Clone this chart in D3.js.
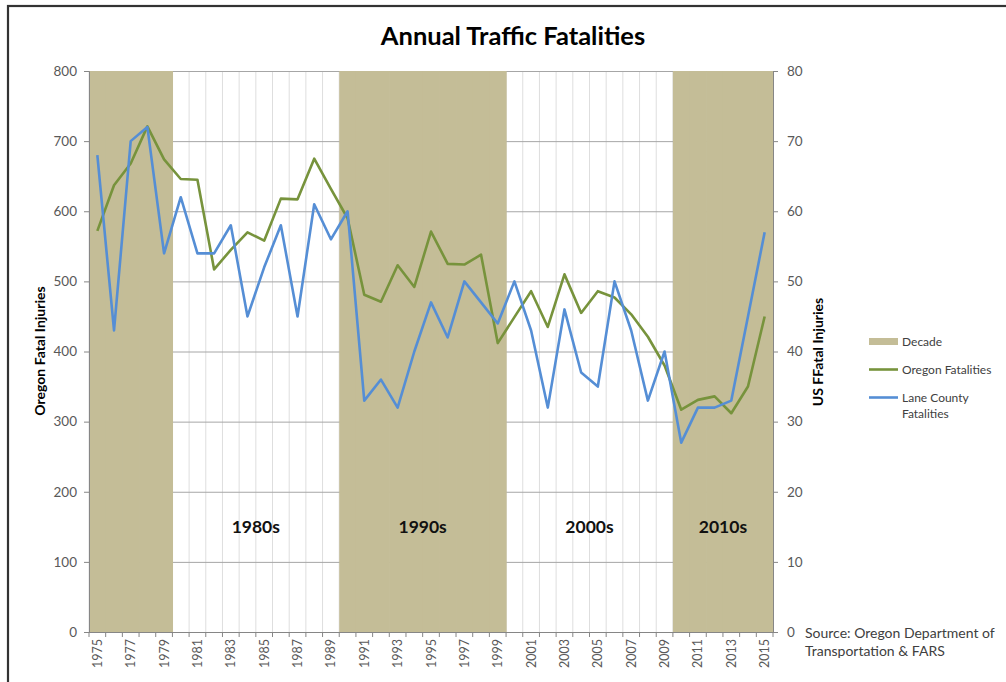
<!DOCTYPE html>
<html><head><meta charset="utf-8">
<script src="https://cdn.jsdelivr.net/npm/d3@7"></script>
<style>
html,body{margin:0;padding:0;background:#fff;}
svg{display:block;font-family:Lato,"Open Sans",sans-serif;}
</style></head>
<body>
<script>
const years = d3.range(1975, 2016);
const oregonFatalities = [572,637,668,721,674,646,645,517,545,570,558,618,617,675,632,590,481,471,523,492,571,525,524,538,412,449,486,435,510,455,486,477,453,421,380,317,331,336,312,350,450];
const laneCountyFatalities = [68,43,70,72,54,62,54,54,58,45,52,58,45,61,56,60,33,36,32,40,47,42,50,47,44,50,43,32,46,37,35,50,43,33,40,27,32,32,33,45,57];
const decadeYears = [1975,1976,1977,1978,1979,1990,1991,1992,1993,1994,1995,1996,1997,1998,1999,2010,2011,2012,2013,2014,2015];
const decadeLabels = [{label:"1980s",from:1980,to:1989},{label:"1990s",from:1990,to:1999},{label:"2000s",from:2000,to:2009},{label:"2010s",from:2010,to:2015}];
const leftTicks = [0,100,200,300,400,500,600,700,800];
const rightTicks = [0,10,20,30,40,50,60,70,80];

const W=1006,H=682;
const svg=d3.select("body").append("svg").attr("width",W).attr("height",H);

// chart border
svg.append("rect").attr("x",8).attr("y",6).attr("width",W+20).attr("height",H+20)
  .attr("fill","#fff").attr("stroke","#333").attr("stroke-width",2.2);

const L=89,R=773,T=71,B=632;
const x=d3.scaleBand().domain(years).range([L,R]).padding(0);
const y=d3.scaleLinear().domain([0,800]).range([B,T]);
const yR=d3.scaleLinear().domain([0,80]).range([B,T]);

// vertical grid
svg.append("g").selectAll("line").data(d3.range(years.length+1)).join("line")
  .attr("x1",i=>L+i*x.step()).attr("x2",i=>L+i*x.step())
  .attr("y1",T).attr("y2",B).attr("stroke","#dedede").attr("stroke-width",1);
// horizontal grid
svg.append("g").selectAll("line").data(leftTicks).join("line")
  .attr("x1",L).attr("x2",R).attr("y1",d=>y(d)+0.5).attr("y2",d=>y(d)+0.5)
  .attr("stroke","#a6a6a6").attr("stroke-width",1);

// decade bands
svg.append("g").selectAll("rect").data(decadeYears).join("rect")
  .attr("x",d=>x(d)).attr("width",x.bandwidth()+0.6)
  .attr("y",y(800)).attr("height",y(0)-y(800)).attr("fill","#c4bd97");

// axes
const axisColor="#868686";
const gl=svg.append("g").attr("transform",`translate(${L},0)`)
  .call(d3.axisLeft(y).tickValues(leftTicks).tickSize(5).tickPadding(7).tickFormat(d3.format("d")));
const gr=svg.append("g").attr("transform",`translate(${R},0)`)
  .call(d3.axisRight(yR).tickValues(rightTicks).tickSize(5).tickPadding(9).tickFormat(d3.format("d")));
[gl,gr].forEach(g=>{
  g.select(".domain").attr("stroke",axisColor);
  g.selectAll(".tick line").attr("stroke",axisColor);
  g.selectAll("text").attr("fill","#595959").style("font-size","13.5px").style("font-family","Lato,sans-serif");
});
// x axis line + ticks
svg.append("line").attr("x1",L).attr("x2",R).attr("y1",B+0.5).attr("y2",B+0.5).attr("stroke",axisColor);
svg.append("g").selectAll("line").data(d3.range(years.length+1)).join("line")
  .attr("x1",i=>L+i*x.step()).attr("x2",i=>L+i*x.step())
  .attr("y1",B).attr("y2",B+5).attr("stroke",axisColor);
svg.append("g").selectAll("text").data(years.filter((d,i)=>i%2===0)).join("text")
  .attr("transform",d=>`translate(${x(d)+x.bandwidth()/2+4.5},639) rotate(-90)`)
  .attr("text-anchor","end").attr("fill","#595959").style("font-size","12.5px")
  .text(d=>d);

// decade labels
svg.append("g").selectAll("text").data(decadeLabels).join("text")
  .attr("x",d=>(x(d.from)+x(d.to)+x.bandwidth())/2)
  .attr("y",y(150)+6)
  .attr("text-anchor","middle").attr("font-weight","bold").style("font-size","17.5px").attr("fill","#111")
  .text(d=>d.label);

// lines
const lineOr=d3.line().x((d,i)=>x(years[i])+x.bandwidth()/2).y(d=>y(d));
const lineLc=d3.line().x((d,i)=>x(years[i])+x.bandwidth()/2).y(d=>yR(d));
svg.append("path").datum(oregonFatalities).attr("d",lineOr).attr("fill","none")
  .attr("stroke","#77933c").attr("stroke-width",2.6).attr("stroke-linejoin","round");
svg.append("path").datum(laneCountyFatalities).attr("d",lineLc).attr("fill","none")
  .attr("stroke","#558ed5").attr("stroke-width",2.6).attr("stroke-linejoin","round");

// title
svg.append("text").attr("x",513).attr("y",45).attr("text-anchor","middle")
  .attr("font-weight","bold").style("font-size","25.5px").attr("fill","#000")
  .text("Annual Traffic Fatalities");

// axis titles
svg.append("text").attr("transform","translate(45,351) rotate(-90)").attr("text-anchor","middle")
  .attr("font-weight","bold").style("font-size","14px").attr("fill","#000").text("Oregon Fatal Injuries");
svg.append("text").attr("transform","translate(823,352) rotate(-90)").attr("text-anchor","middle")
  .attr("font-weight","bold").style("font-size","14px").attr("fill","#000").text("US FFatal Injuries");

// legend
const lg=svg.append("g").style("font-size","12px").attr("fill","#404040");
lg.append("rect").attr("x",869).attr("y",338).attr("width",29).attr("height",7).attr("fill","#c4bd97");
lg.append("text").attr("x",902).attr("y",345.5).text("Decade");
lg.append("line").attr("x1",869).attr("x2",898).attr("y1",369.5).attr("y2",369.5).attr("stroke","#77933c").attr("stroke-width",2.6);
lg.append("text").attr("x",902).attr("y",373.5).text("Oregon Fatalities");
lg.append("line").attr("x1",869).attr("x2",898).attr("y1",397.5).attr("y2",397.5).attr("stroke","#558ed5").attr("stroke-width",2.6);
lg.append("text").attr("x",902).attr("y",401.5).text("Lane County");
lg.append("text").attr("x",902).attr("y",417.5).text("Fatalities");

// source
const src=svg.append("g").style("font-size","14px").attr("fill","#404040");
src.append("text").attr("x",805).attr("y",638).text("Source: Oregon Department of");
src.append("text").attr("x",805).attr("y",656).text("Transportation & FARS");
</script>
</body></html>
